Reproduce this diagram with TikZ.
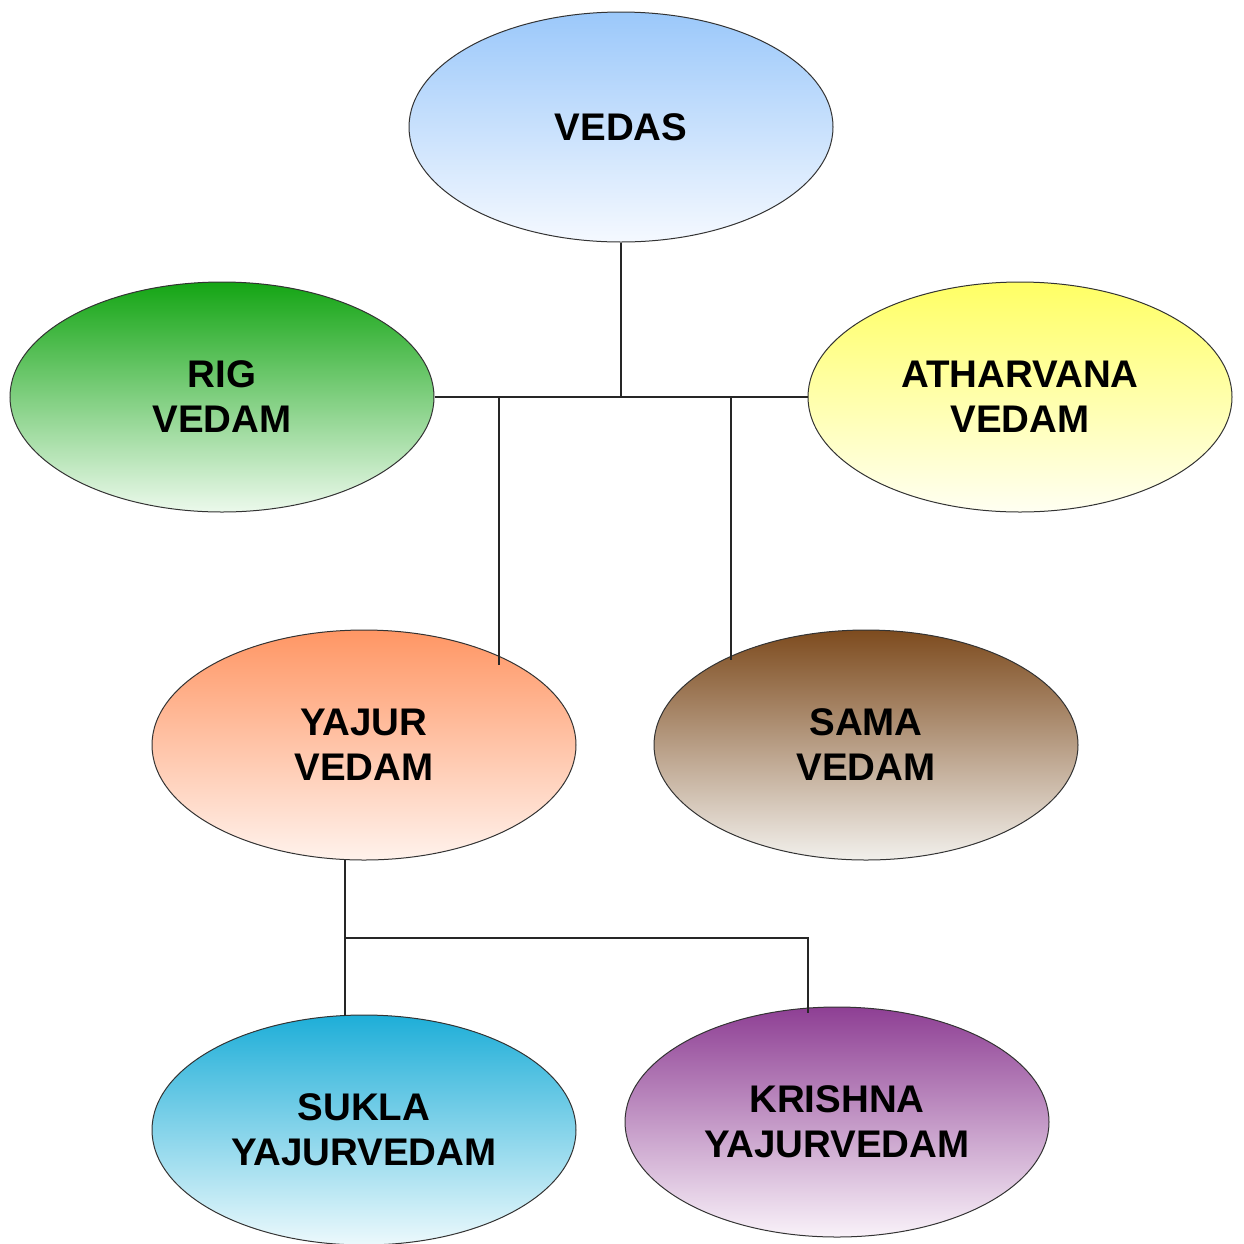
\documentclass[tikz,border=0pt]{standalone}
\usepackage{fontspec}
\setmainfont{Liberation Sans}
\usetikzlibrary{shapes.geometric}

\begin{document}
\begin{tikzpicture}[x=1pt, y=-1pt,
    veda/.style={ellipse, draw=black!80, line width=1pt, minimum width=424pt, minimum height=230pt,
        inner sep=0pt, align=center, font=\fontsize{38.5}{45}\selectfont\bfseries},
    link/.style={draw=black!85, line width=1.6pt}]
            \useasboundingbox (0,0) rectangle (1244,1243);

            % Nodes
            \node[veda, top color={rgb,255:red,155;green,200;blue,250}, bottom color={rgb,255:red,245;green,249;blue,255}] (vedas) at (621,127) {VEDAS};
            \node[veda, top color={rgb,255:red,20;green,165;blue,20}, bottom color={rgb,255:red,236;green,249;blue,236}] (rig) at (222,397) {RIG\\VEDAM};
            \node[veda, top color={rgb,255:red,255;green,255;blue,100}, bottom color={rgb,255:red,255;green,255;blue,242}] (atharvana) at (1020,397) {ATHARVANA\\VEDAM};
            \node[veda, top color={rgb,255:red,255;green,150;blue,100}, bottom color={rgb,255:red,255;green,242;blue,236}] (yajur) at (364,745) {YAJUR\\VEDAM};
            \node[veda, top color={rgb,255:red,125;green,75;blue,30}, bottom color={rgb,255:red,242;green,240;blue,236}] (sama) at (866,745) {SAMA\\VEDAM};
            \node[veda, top color={rgb,255:red,30;green,174;blue,216}, bottom color={rgb,255:red,236;green,249;blue,252}] (sukla) at (364,1130) {SUKLA\\YAJURVEDAM};
            \node[veda, top color={rgb,255:red,142;green,63;blue,148}, bottom color={rgb,255:red,249;green,242;blue,249}] (krishna) at (837,1122) {KRISHNA\\YAJURVEDAM};

            % Junctions
            \coordinate (top_joint) at (621,397);
            \coordinate (yajur_joint) at (499,397);
            \coordinate (yajur_end) at (499,665);
            \coordinate (sama_joint) at (731,397);
            \coordinate (sama_end) at (731,660);
            \coordinate (sukla_top) at (345,860);
            \coordinate (sukla_joint) at (345,938);
            \coordinate (sukla_end) at (345,1016);
            \coordinate (krishna_joint) at (808,938);
            \coordinate (krishna_end) at (808,1013);

            % Lines
            \draw[link] (vedas.south) -- (top_joint);
            \draw[link] (rig.east) -- (atharvana.west);
            \draw[link] (yajur_joint) -- (yajur_end);
            \draw[link] (sama_joint) -- (sama_end);
            \draw[link] (sukla_top) -- (sukla_joint) -- (sukla_end);
            \draw[link] (sukla_joint) -- (krishna_joint) -- (krishna_end);
        \end{tikzpicture}
\end{document}
